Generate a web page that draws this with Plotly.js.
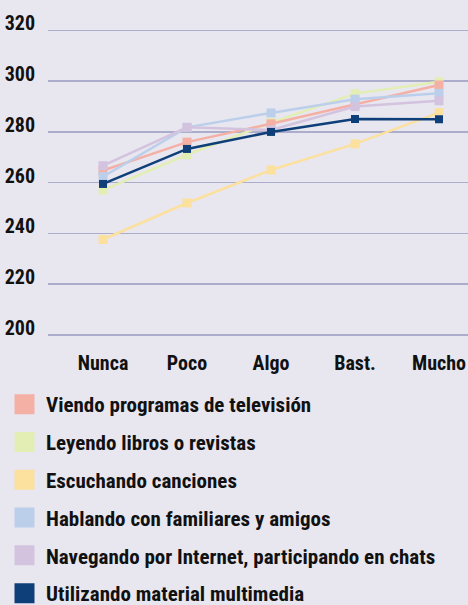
<!DOCTYPE html>
<html>
<head>
<meta charset="utf-8">
<script src="https://cdn.plot.ly/plotly-3.0.1.min.js"></script>
<style>html,body{margin:0;padding:0;background:#e8e7f0;}</style>
</head>
<body>
<div id="chart" style="width:468px;height:605px;"></div>
<script>
var categories = ["Nunca", "Poco", "Algo", "Bast.", "Mucho"];
var seriesNames = [
  "Viendo programas de televisión",
  "Leyendo libros o revistas",
  "Escuchando canciones",
  "Hablando con familiares y amigos",
  "Navegando por Internet, participando en chats",
  "Utilizando material multimedia"
];
var tvValues        = [264.8, 276.0, 283.2, 290.8, 298.5];
var librosValues    = [257.1, 271.0, 283.7, 295.1, 299.8];
var cancionesValues = [237.6, 252.0, 265.0, 275.3, 287.6];
var familiaValues   = [262.4, 281.8, 287.5, 292.9, 295.2];
var internetValues  = [266.7, 281.8, 280.8, 290.0, 292.3];
var multimediaValues= [259.5, 273.3, 280.0, 285.1, 285.0];
var tickValsY = [200, 220, 240, 260, 280, 300, 320];

var colors = ["#f5b0a5", "#e2eeb3", "#fce09e", "#bccfea", "#d3c3df", "#0f3f78"];
var allValues = [tvValues, librosValues, cancionesValues, familiaValues, internetValues, multimediaValues];
var drawOrder = [2, 1, 0, 3, 4, 5];

var FONT = '"Roboto Condensed", "Liberation Sans Narrow", sans-serif';
var traces = [];
drawOrder.forEach(function(i){
  traces.push({
    x: categories, y: allValues[i], type: 'scatter', mode: 'lines+markers',
    line: {color: colors[i], width: 2.5},
    marker: {symbol: 'square', size: i === 5 ? 8 : 9, color: colors[i]},
    showlegend: false, hoverinfo: 'skip'
  });
});
seriesNames.forEach(function(name, i){
  traces.push({
    x: [null], y: [null], type: 'scatter', mode: 'markers', name: name,
    legendgroup: 'g' + i,
    marker: {symbol: 'square', size: 16, color: colors[i], line: {color: colors[i], width: 4}},
    showlegend: true, hoverinfo: 'skip'
  });
});

var layout = {
  width: 468, height: 605,
  paper_bgcolor: '#e8e7f0', plot_bgcolor: '#e8e7f0',
  margin: {l: 48, r: 0, t: 0, b: 265, pad: 0, autoexpand: false},
  font: {family: FONT, size: 20, color: '#111111'},
  xaxis: {
    type: 'category', range: [-0.655, 4.345], showgrid: false, zeroline: false,
    showline: false, ticks: '', ticklabelstandoff: 9,
    tickfont: {family: FONT, size: 20, color: '#111111', weight: 'bold'}
  },
  yaxis: {
    range: [198, 332], tickvals: tickValsY, showgrid: true, gridcolor: '#abadcb', gridwidth: 1.5,
    zeroline: false, showline: false, ticks: '', ticklabelstandoff: 12, ticklabelshift: -7,
    tickfont: {family: FONT, size: 20, color: '#111111', weight: 'bold'}
  },
  showlegend: true,
  legend: {
    xref: 'container', yref: 'container', x: 3/468, y: 1 - 384/605, xanchor: 'left', yanchor: 'top',
    bgcolor: 'rgba(0,0,0,0)', traceorder: 'grouped', tracegroupgap: 7.5, maxheight: 600,
    font: {family: FONT, size: 21, color: '#111111', weight: 'bold'}, itemwidth: 33
  }
};
Plotly.newPlot('chart', traces, layout, {displayModeBar: false, staticPlot: true});
</script>
</body>
</html>
